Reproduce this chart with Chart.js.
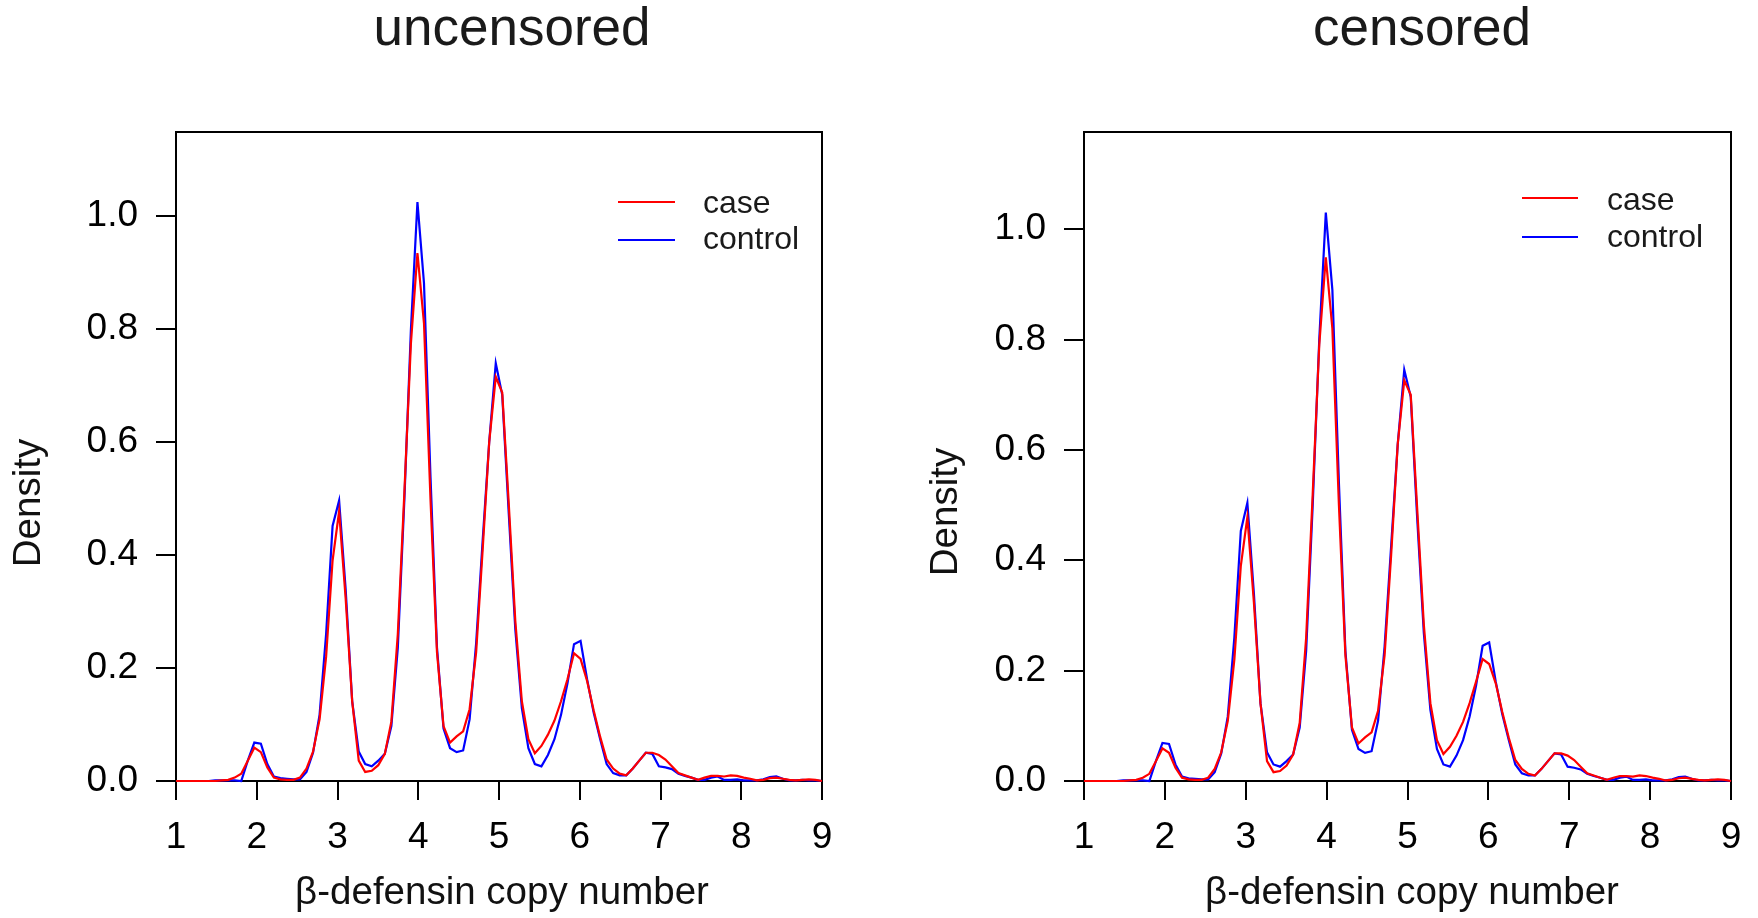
<!DOCTYPE html>
<html>
<head>
<meta charset="utf-8">
<script src="https://cdn.jsdelivr.net/npm/chart.js@4.4.1/dist/chart.umd.min.js"></script>
<style>
  html, body { margin: 0; padding: 0; background: #fff; }
  body { width: 1758px; height: 918px; position: relative; overflow: hidden; }
  .panel { position: absolute; top: 0; width: 879px; height: 918px; }
  canvas { display: block; }
</style>
</head>
<body>
<div class="panel" style="left:0"><canvas id="c0" width="879" height="918"></canvas></div>
<div class="panel" style="left:879px"><canvas id="c1" width="879" height="918"></canvas></div>
<script>
// ---- data ----
const xValues = [
  1.000,1.081,1.162,1.242,1.323,1.404,1.485,1.566,1.646,1.727,
  1.808,1.889,1.970,2.051,2.131,2.212,2.293,2.374,2.455,2.535,
  2.616,2.697,2.778,2.859,2.939,3.020,3.101,3.182,3.263,3.343,
  3.424,3.505,3.586,3.667,3.747,3.828,3.909,3.990,4.071,4.152,
  4.232,4.313,4.394,4.475,4.556,4.636,4.717,4.798,4.879,4.960,
  5.040,5.121,5.202,5.283,5.364,5.444,5.525,5.606,5.687,5.768,
  5.848,5.929,6.010,6.091,6.172,6.253,6.333,6.414,6.495,6.576,
  6.657,6.737,6.818,6.899,6.980,7.061,7.141,7.222,7.303,7.384,
  7.465,7.545,7.626,7.707,7.788,7.869,7.949,8.030,8.111,8.192,
  8.273,8.354,8.434,8.515,8.596,8.677,8.758,8.838,8.919,9.000
];
const caseUncensored = [
  0,0,0,0,0,0,0,0.001,0.002,0.006,
  0.013,0.036,0.059,0.051,0.024,0.006,0.003,0.002,0.002,0.006,
  0.022,0.052,0.109,0.22,0.39,0.477,0.323,0.141,0.036,0.016,
  0.018,0.028,0.048,0.105,0.26,0.51,0.774,0.934,0.81,0.497,
  0.228,0.097,0.068,0.079,0.088,0.127,0.228,0.41,0.6,0.715,
  0.687,0.49,0.283,0.141,0.074,0.049,0.062,0.082,0.107,0.141,
  0.18,0.226,0.216,0.177,0.125,0.078,0.038,0.022,0.013,0.01,
  0.022,0.036,0.05,0.05,0.046,0.038,0.026,0.014,0.01,0.006,
  0.002,0.006,0.009,0.009,0.008,0.01,0.009,0.006,0.004,0.001,
  0.002,0.005,0.006,0.004,0.002,0.001,0.002,0.003,0.002,0
];
const controlUncensored = [
  0,0,0,0,0,0,0.001,0.001,0.001,0.001,
  0,0.036,0.068,0.066,0.03,0.008,0.005,0.004,0.003,0.003,
  0.016,0.05,0.117,0.26,0.451,0.496,0.339,0.141,0.052,0.03,
  0.026,0.036,0.048,0.097,0.236,0.497,0.798,1.024,0.881,0.537,
  0.236,0.093,0.058,0.051,0.054,0.109,0.244,0.426,0.6,0.739,
  0.683,0.473,0.268,0.129,0.058,0.03,0.026,0.046,0.074,0.117,
  0.173,0.242,0.248,0.18,0.121,0.074,0.03,0.014,0.01,0.01,
  0.022,0.036,0.05,0.048,0.026,0.024,0.021,0.013,0.009,0.006,
  0.002,0.002,0.006,0.008,0.002,0.002,0.003,0.001,0.001,0.001,
  0.003,0.007,0.008,0.004,0.001,0.001,0.002,0.001,0.001,0
];
const caseCensored = [
  0,0,0,0,0,0,0,0.001,0.002,0.006,
  0.013,0.036,0.059,0.051,0.024,0.006,0.003,0.002,0.002,0.006,
  0.022,0.052,0.109,0.22,0.39,0.478,0.323,0.141,0.036,0.016,
  0.018,0.028,0.048,0.105,0.26,0.52,0.79,0.949,0.82,0.5,
  0.228,0.097,0.068,0.079,0.088,0.127,0.228,0.41,0.61,0.726,
  0.70,0.49,0.283,0.141,0.074,0.049,0.062,0.082,0.107,0.141,
  0.18,0.221,0.212,0.177,0.125,0.078,0.038,0.022,0.013,0.01,
  0.022,0.036,0.05,0.05,0.046,0.038,0.026,0.014,0.01,0.006,
  0.002,0.006,0.009,0.009,0.008,0.01,0.009,0.006,0.004,0.001,
  0.002,0.005,0.006,0.004,0.002,0.001,0.002,0.003,0.002,0
];
const controlCensored = [
  0,0,0,0,0,0,0.001,0.001,0.001,0.001,
  0,0.036,0.069,0.067,0.03,0.008,0.005,0.004,0.003,0.003,
  0.016,0.05,0.117,0.26,0.453,0.504,0.339,0.141,0.052,0.03,
  0.026,0.036,0.048,0.097,0.236,0.5,0.80,1.03,0.89,0.54,
  0.236,0.093,0.058,0.051,0.054,0.109,0.244,0.426,0.61,0.745,
  0.696,0.473,0.268,0.129,0.058,0.03,0.026,0.046,0.074,0.117,
  0.173,0.245,0.251,0.18,0.121,0.074,0.03,0.014,0.01,0.01,
  0.022,0.036,0.05,0.048,0.026,0.024,0.021,0.013,0.009,0.006,
  0.002,0.002,0.006,0.008,0.002,0.002,0.003,0.001,0.001,0.001,
  0.003,0.007,0.008,0.004,0.001,0.001,0.002,0.001,0.001,0
];
const xTicks = [1,2,3,4,5,6,7,8,9];
const yTicks = [0,0.2,0.4,0.6,0.8,1.0];
const seriesLabels = ['case','control'];
const panelTitles = ['uncensored','censored'];
const xAxisTitle = 'β-defensin copy number';
const yAxisTitle = 'Density';

// ---- layout / style ----
const FONT = '"Liberation Sans", Arial, Helvetica, sans-serif';
const panels = [
  { id:'c0', caseData:caseUncensored, controlData:controlUncensored, title:panelTitles[0],
    areaLeft:176, padRight:57, yMax:1.148,
    titleX:512, xTitleX:502, yTitleX:40, yTitleY:503,
    legLine:[618,675], legTextX:703, legY:[202,240], legBase:[213,249] },
  { id:'c1', caseData:caseCensored, controlData:controlCensored, title:panelTitles[1],
    areaLeft:205, padRight:27, yMax:1.176,
    titleX:1422-879, xTitleX:1412-879, yTitleX:957-879, yTitleY:512,
    legLine:[1522-879,1578-879], legTextX:1607-879, legY:[198,237], legBase:[210,247] }
];

function makeChart(p) {
  const decor = {
    id: 'decor',
    beforeDatasetsDraw(chart) {
      const {ctx, chartArea:a} = chart;
      ctx.save();
      ctx.strokeStyle = '#000';
      ctx.lineWidth = 2;
      ctx.strokeRect(a.left, a.top, a.right - a.left, a.bottom - a.top);
      ctx.restore();
    },
    afterDraw(chart) {
      const ctx = chart.ctx;
      ctx.save();
      ctx.fillStyle = '#1a1a1a';
      ctx.textAlign = 'center';
      ctx.textBaseline = 'alphabetic';
      ctx.font = '53px ' + FONT;
      ctx.fillText(p.title, p.titleX, 45);
      ctx.fillStyle = '#111';
      ctx.font = '38.5px ' + FONT;
      ctx.fillText(xAxisTitle, p.xTitleX, 904);
      ctx.save();
      ctx.translate(p.yTitleX, p.yTitleY);
      ctx.rotate(-Math.PI/2);
      ctx.fillText(yAxisTitle, 0, 0);
      ctx.restore();
      // legend
      ctx.font = '32px ' + FONT;
      ctx.textAlign = 'left';
      chart.data.datasets.forEach((ds, i) => {
        ctx.strokeStyle = ds.borderColor;
        ctx.lineWidth = 2;
        ctx.beginPath();
        ctx.moveTo(p.legLine[0], p.legY[i]);
        ctx.lineTo(p.legLine[1], p.legY[i]);
        ctx.stroke();
        ctx.fillStyle = '#1a1a1a';
        ctx.fillText(ds.label, p.legTextX, p.legBase[i]);
      });
      ctx.restore();
    }
  };
  return new Chart(document.getElementById(p.id), {
    type: 'line',
    data: {
      datasets: [
        { label: seriesLabels[0], data: xValues.map((x,i)=>({x:x, y:p.caseData[i]})),
          borderColor:'#ff0000', borderWidth:2.2, pointRadius:0, tension:0, fill:false, clip:4 },
        { label: seriesLabels[1], data: xValues.map((x,i)=>({x:x, y:p.controlData[i]})),
          borderColor:'#0000ff', borderWidth:2.2, pointRadius:0, tension:0, fill:false, clip:4 }
      ]
    },
    options: {
      responsive: false,
      animation: false,
      devicePixelRatio: 1,
      layout: { padding: { top:132, right:p.padRight, bottom:0, left:0 } },
      plugins: { legend:{display:false}, tooltip:{enabled:false}, title:{display:false} },
      scales: {
        x: {
          type:'linear', min:1, max:9,
          afterBuildTicks: s => { s.ticks = xTicks.map(v=>({value:v})); },
          afterFit: s => { s.height = 137; },
          ticks: { font:{size:37, family:FONT}, color:'#000', padding:16, maxRotation:0,
                   callback: v => String(v) },
          grid: { drawOnChartArea:false, drawTicks:true, tickLength:19, color:'#000', lineWidth:2 },
          border: { display:false }
        },
        y: {
          type:'linear', min:0, max:p.yMax,
          afterBuildTicks: s => { s.ticks = yTicks.map(v=>({value:v})); },
          afterFit: s => { s.width = p.areaLeft; },
          ticks: { font:{size:37, family:FONT}, color:'#000', padding:18,
                   callback: v => Number(v).toFixed(1) },
          grid: { drawOnChartArea:false, drawTicks:true, tickLength:20, color:'#000', lineWidth:2 },
          border: { display:false }
        }
      }
    },
    plugins: [decor]
  });
}
panels.forEach(makeChart);
</script>
</body>
</html>
